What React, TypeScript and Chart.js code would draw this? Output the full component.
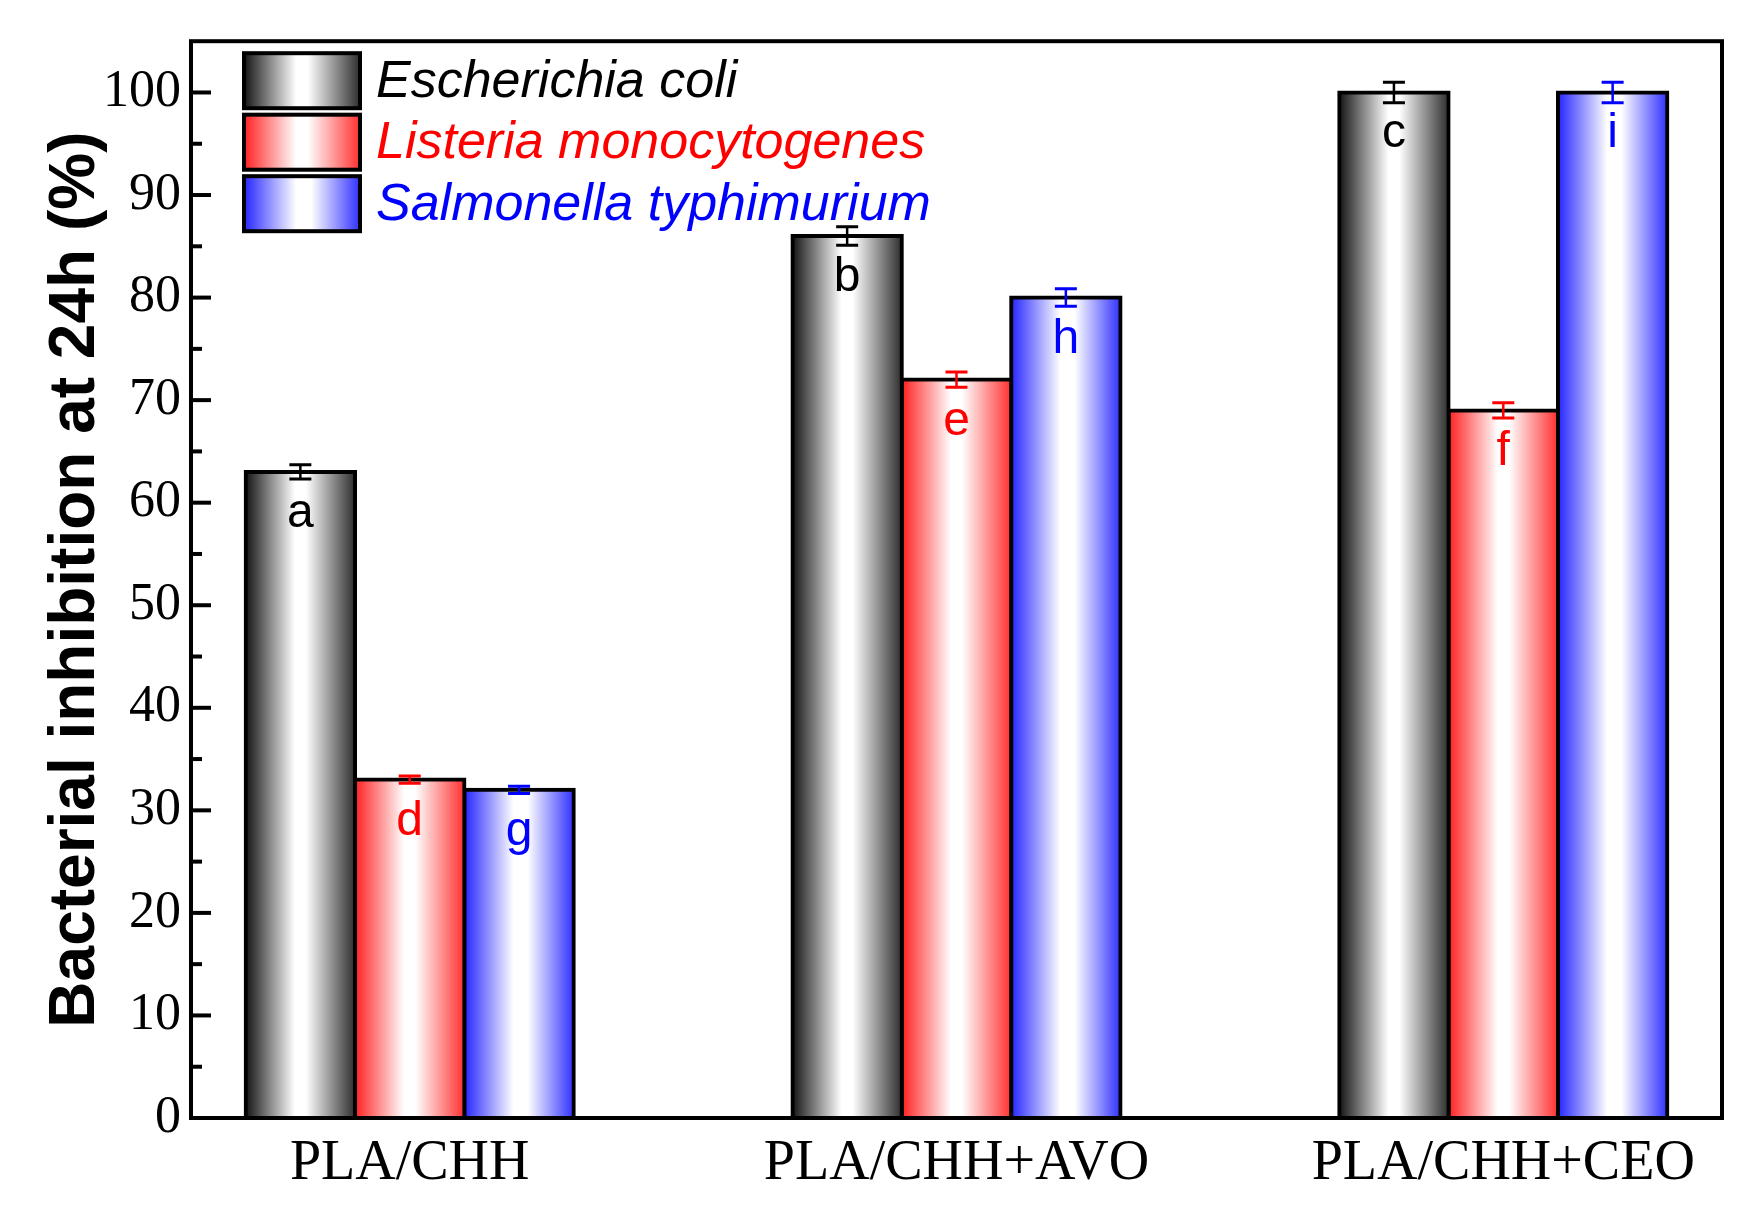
import React, { useEffect, useRef } from "react";
import { Chart, registerables } from "chart.js";

Chart.register(...registerables);

// ---------- data ----------
const categories = ["PLA/CHH", "PLA/CHH+AVO", "PLA/CHH+CEO"];
const seriesNames = ["Escherichia coli", "Listeria monocytogenes", "Salmonella typhimurium"];
const ecoli = [63, 86, 100];
const ecoliErr = [0.7, 0.9, 1.0];
const listeria = [33, 72, 69];
const listeriaErr = [0.35, 0.75, 0.75];
const salmonella = [32, 80, 100];
const salmonellaErr = [0.35, 0.85, 1.0];
const ecoliLetters = ["a", "b", "c"];
const listeriaLetters = ["d", "e", "f"];
const salmonellaLetters = ["g", "h", "i"];
const yMajorTicks = [0, 10, 20, 30, 40, 50, 60, 70, 80, 90, 100];
const yMinorTicks = [5, 15, 25, 35, 45, 55, 65, 75, 85, 95];
const yTitle = "Bacterial inhibition at 24h (%)";

// ---------- styles ----------
const W = 1745;
const H = 1219;
const SERIF = '"Liberation Serif", "Times New Roman", serif';
const SANS = '"Liberation Sans", Arial, sans-serif';
const CAT_PCT = 0.6;
const seriesColors = ["#000000", "#ff0000", "#0000ff"];
const gradStops: [number, string][][] = [
  [[0, "#141414"], [0.45, "#ffffff"], [0.55, "#ffffff"], [1, "#2e2e2e"]],
  [[0, "#ff2020"], [0.45, "#ffffff"], [0.55, "#ffffff"], [1, "#ff3030"]],
  [[0, "#2525ff"], [0.45, "#ffffff"], [0.58, "#ffffff"], [1, "#3030ff"]],
];

const allValues = [ecoli, listeria, salmonella];
const allErrors = [ecoliErr, listeriaErr, salmonellaErr];
const allLetters = [ecoliLetters, listeriaLetters, salmonellaLetters];

function makeGrad(ctx: CanvasRenderingContext2D, x0: number, x1: number, stops: [number, string][]) {
  const g = ctx.createLinearGradient(x0, 0, x1, 0);
  stops.forEach(([o, c]) => g.addColorStop(o, c));
  return g;
}

const overlayPlugin = {
  id: "overlay",
  afterDraw(chart: any) {
    const { ctx, chartArea: ca, scales } = chart;
    const ys = scales.y;
    ctx.save();
    // frame
    ctx.strokeStyle = "#000";
    ctx.lineWidth = 4;
    ctx.strokeRect(ca.left, ca.top, ca.right - ca.left, ca.bottom - ca.top);
    // inward ticks on left axis
    ctx.lineWidth = 4;
    yMajorTicks.forEach((v) => {
      const y = ys.getPixelForValue(v);
      ctx.beginPath();
      ctx.moveTo(ca.left, y);
      ctx.lineTo(ca.left + 20, y);
      ctx.stroke();
    });
    yMinorTicks.forEach((v) => {
      const y = ys.getPixelForValue(v);
      ctx.beginPath();
      ctx.moveTo(ca.left, y);
      ctx.lineTo(ca.left + 11, y);
      ctx.stroke();
    });
    // error bars + letters
    chart.data.datasets.forEach((ds: any, d: number) => {
      const meta = chart.getDatasetMeta(d);
      meta.data.forEach((bar: any, i: number) => {
        const v = allValues[d][i];
        const e = allErrors[d][i];
        const yTop = ys.getPixelForValue(v + e);
        const yBot = ys.getPixelForValue(v - e);
        const x = bar.x;
        ctx.strokeStyle = seriesColors[d];
        ctx.lineWidth = 2.5;
        ctx.beginPath();
        ctx.moveTo(x, yTop);
        ctx.lineTo(x, yBot);
        ctx.stroke();
        ctx.lineWidth = 3;
        ctx.beginPath();
        ctx.moveTo(x - 11, yTop);
        ctx.lineTo(x + 11, yTop);
        ctx.moveTo(x - 11, yBot);
        ctx.lineTo(x + 11, yBot);
        ctx.stroke();
        // letter
        ctx.fillStyle = seriesColors[d];
        ctx.font = `48px ${SANS}`;
        ctx.textAlign = "center";
        ctx.textBaseline = "alphabetic";
        ctx.fillText(allLetters[d][i], x, bar.y + 55);
      });
    });
    // legend
    const bx = ca.left + 53;
    const by = ca.top + 12;
    const bw = 116;
    const bh = 55;
    const step = 61.5;
    seriesNames.forEach((name, k) => {
      const top = by + k * step;
      ctx.fillStyle = makeGrad(ctx, bx, bx + bw, gradStops[k]);
      ctx.fillRect(bx, top, bw, bh);
      ctx.strokeStyle = "#000";
      ctx.lineWidth = 4;
      ctx.strokeRect(bx, top, bw, bh);
      ctx.fillStyle = seriesColors[k];
      ctx.font = `italic 52px ${SANS}`;
      ctx.textAlign = "left";
      ctx.textBaseline = "alphabetic";
      ctx.fillText(name, ca.left + 185, top + bh / 2 + 16);
    });
    ctx.restore();
  },
};

export default function App() {
  const ref = useRef<HTMLCanvasElement | null>(null);
  useEffect(() => {
    if (!ref.current) return;
    const bg = (d: number) => (c: any) => {
      const chart = c.chart;
      const xs = chart.scales && chart.scales.x;
      if (!xs || c.type !== "data") return seriesColors[d];
      const center = xs.getPixelForValue(c.dataIndex + 1);
      const stepPx = Math.abs(xs.getPixelForValue(2) - xs.getPixelForValue(1));
      if (!isFinite(center) || !isFinite(stepPx) || stepPx <= 0) return seriesColors[d];
      const group = stepPx * CAT_PCT;
      const chunk = group / 3;
      const left = center - group / 2 + chunk * d;
      return makeGrad(chart.ctx, left, left + chunk, gradStops[d]);
    };
    const datasets = allValues.map((vals, d) => ({
      label: seriesNames[d],
      data: vals.map((v, i) => ({ x: i + 1, y: v })),
      backgroundColor: bg(d),
      borderColor: "#000",
      borderWidth: 4,
      inflateAmount: 2,
      borderSkipped: "start",
      categoryPercentage: CAT_PCT,
      barPercentage: 1.0,
    }));
    const chart = new Chart(ref.current, {
      type: "bar",
      data: { datasets: datasets as any },
      options: {
        animation: false,
        responsive: false,
        devicePixelRatio: 1,
        layout: { padding: { left: 0, right: 23, top: 41, bottom: 0 } },
        plugins: { legend: { display: false }, tooltip: { enabled: false } },
        scales: {
          x: {
            type: "linear",
            min: 0.6,
            max: 3.4,
            offset: false,
            grid: { display: false, drawTicks: false },
            border: { display: false },
            afterBuildTicks: (s: any) => {
              s.ticks = categories.map((_, i) => ({ value: i + 1 }));
            },
            afterFit: (s: any) => {
              s.height = 101;
            },
            ticks: {
              color: "#000",
              font: { family: SERIF, size: 56 },
              padding: 13,
              maxRotation: 0,
              autoSkip: false,
              callback: (v: any) => categories[Math.round(Number(v)) - 1] ?? "",
            },
          },
          y: {
            type: "linear",
            min: 0,
            max: 105,
            grid: { display: false, drawTicks: false },
            border: { display: false },
            afterBuildTicks: (s: any) => {
              s.ticks = yMajorTicks.map((v) => ({ value: v }));
            },
            afterFit: (s: any) => {
              s.width = 191;
            },
            ticks: {
              color: "#000",
              font: { family: SERIF, size: 52 },
              padding: 10,
              autoSkip: false,
            },
            title: {
              display: true,
              text: yTitle,
              color: "#000",
              font: { family: SANS, size: 64, weight: "bold", lineHeight: 1 },
              padding: { top: 44, bottom: 0 },
            },
          },
        },
      },
      plugins: [overlayPlugin],
    });
    return () => chart.destroy();
  }, []);
  return (
    <div style={{ position: "absolute", left: 0, top: 0, width: W, height: H, background: "#fff" }}>
      <canvas ref={ref} width={W} height={H} style={{ width: W, height: H, display: "block" }} />
    </div>
  );
}
